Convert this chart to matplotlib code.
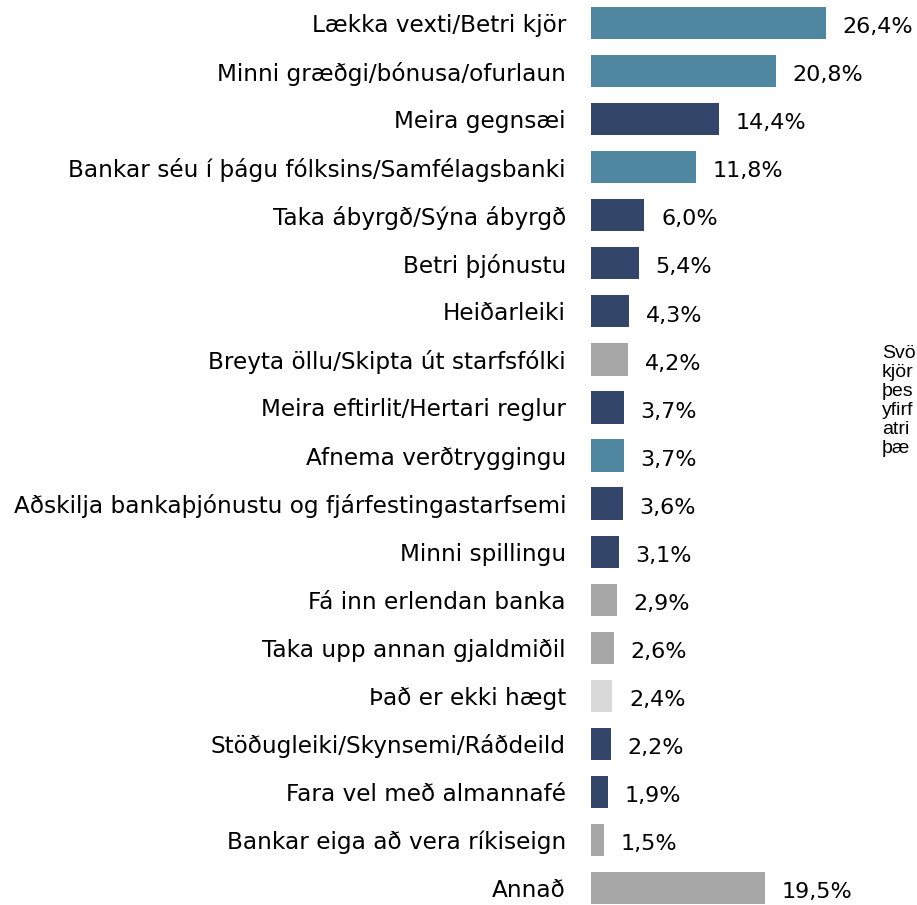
import matplotlib
matplotlib.use("Agg")
import matplotlib.pyplot as plt

categories = [
    "Lækka vexti/Betri kjör",
    "Minni græðgi/bónusa/ofurlaun",
    "Meira gegnsæi",
    "Bankar séu í þágu fólksins/Samfélagsbanki",
    "Taka ábyrgð/Sýna ábyrgð",
    "Betri þjónustu",
    "Heiðarleiki",
    "Breyta öllu/Skipta út starfsfólki",
    "Meira eftirlit/Hertari reglur",
    "Afnema verðtryggingu",
    "Aðskilja bankaþjónustu og fjárfestingastarfsemi",
    "Minni spillingu",
    "Fá inn erlendan banka",
    "Taka upp annan gjaldmiðil",
    "Það er ekki hægt",
    "Stöðugleiki/Skynsemi/Ráðdeild",
    "Fara vel með almannafé",
    "Bankar eiga að vera ríkiseign",
    "Annað",
]
values = [26.4, 20.8, 14.4, 11.8, 6.0, 5.4, 4.3, 4.2, 3.7, 3.7, 3.6, 3.1, 2.9, 2.6, 2.4, 2.2, 1.9, 1.5, 19.5]
groups = ["t", "t", "n", "t", "n", "n", "n", "g", "n", "t", "n", "n", "g", "g", "l", "n", "n", "g", "g"]
palette = {"t": "#4f87a1", "n": "#33466a", "g": "#a6a6a6", "l": "#d9d9d9"}
note = "Svö\nkjör\nþes\nyfirf\natri\nþæ"

plt.rcParams['font.family'] = ['DejaVu Sans']

W, H = 917, 905
fig = plt.figure(figsize=(W / 100, H / 100), dpi=100)
left_px = 591
ax = fig.add_axes([left_px / W, 0, (W - left_px) / W, 1])

pos = list(range(len(categories)))
colors = [palette[g] for g in groups]
ax.barh(pos, values, height=0.67, color=colors)

px_per_unit_y = 48.06
ax.set_ylim((H - 23) / px_per_unit_y, -23 / px_per_unit_y)
ax.set_xlim(0, (W - left_px) / 8.9)

for p, v in zip(pos, values):
    ax.annotate(f"{v:.1f}".replace(".", ",") + "%", xy=(v, p), xytext=(12, -3),
                textcoords="offset points", ha="left", va="center", fontsize=16)

ax.set_yticks(pos)
ax.set_yticklabels(categories, fontsize=16.7)
ax.tick_params(axis="y", length=0, pad=18)
ax.set_xticks([])
for s in ax.spines.values():
    s.set_visible(False)

fig.text(882 / W, 1 - 345 / H, note, fontsize=14, va="top", ha="left",
         linespacing=1.15, family=['Liberation Sans', 'DejaVu Sans'])

fig.savefig("out.png", dpi=100)
